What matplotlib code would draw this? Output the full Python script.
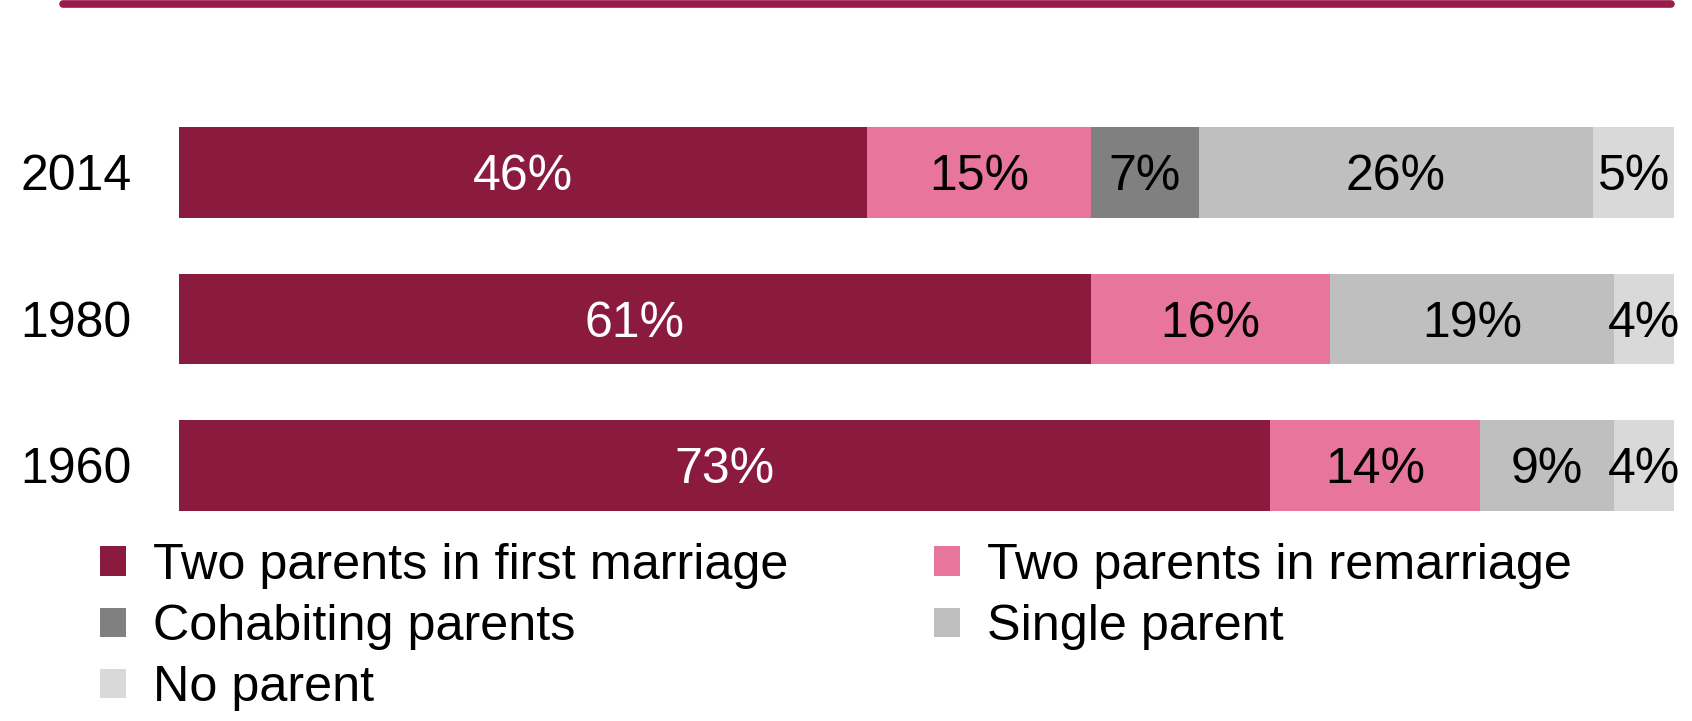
import matplotlib.pyplot as plt
from matplotlib.patches import Patch
from matplotlib.lines import Line2D

plt.rcParams['font.family'] = ['Liberation Sans', 'DejaVu Sans']

years = ["1960", "1980", "2014"]
categories = ["Two parents in first marriage", "Two parents in remarriage",
              "Cohabiting parents", "Single parent", "No parent"]
# shares in percent (2014, labels show rounded values)
first_marriage = [73, 61, 46.0]
remarriage = [14, 16, 15.0]
cohabiting = [0, 0, 7.2]
single = [9, 19, 26.4]
no_parent = [4, 4, 5.4]

colors = ["#8B1A3F", "#E8759B", "#808080", "#BFBFBF", "#D9D9D9"]
label_colors = ["white", "black", "black", "black", "black"]

series = [first_marriage, remarriage, cohabiting, single, no_parent]

fig = plt.figure(figsize=(16.92, 7.21), dpi=100)
ax = fig.add_axes([179 / 1692, 0.2528, 1495 / 1692, 0.6096])

FS = 36
left = [0.0] * len(years)
for vals, col, tcol in zip(series, colors, label_colors):
    ax.barh(years, vals, left=left, height=0.62, color=col, edgecolor='none')
    for i, v in enumerate(vals):
        if v > 0:
            ax.text(left[i] + v / 2, i, f"{round(v)}%", ha='center',
                    va='center_baseline', color=tcol, fontsize=FS)
    left = [l + v for l, v in zip(left, vals)]

ax.set_xlim(0, 100)
ax.set_ylim(-0.5, 2.5)
ax.set_xticks([])
ax.tick_params(axis='y', length=0, pad=34, labelsize=FS)
for lbl in ax.get_yticklabels():
    lbl.set_verticalalignment('center_baseline')
for s in ax.spines.values():
    s.set_visible(False)

# legend: column-major order
order = [0, 2, 4, 1, 3]
handles = [Patch(facecolor=colors[k], edgecolor='none') for k in order]
labels = [categories[k] for k in order]
fig.legend(handles, labels, ncol=2, loc='upper left',
           bbox_to_anchor=(100 / 1692, 1 - 543 / 721), frameon=False,
           fontsize=36.3, handlelength=0.52, handleheight=0.52,
           handletextpad=0.54, columnspacing=2.88, labelspacing=0.30,
           borderpad=0, borderaxespad=0)

# maroon rule along the top
fig.add_artist(Line2D([(59 + 3.5) / 1692, (1674 - 3.5) / 1692],
                      [1 - 3.8 / 721, 1 - 3.8 / 721],
                      transform=fig.transFigure, color="#9B1B4B",
                      linewidth=5.5, solid_capstyle='round'))

fig.savefig("out.png", dpi=100)
